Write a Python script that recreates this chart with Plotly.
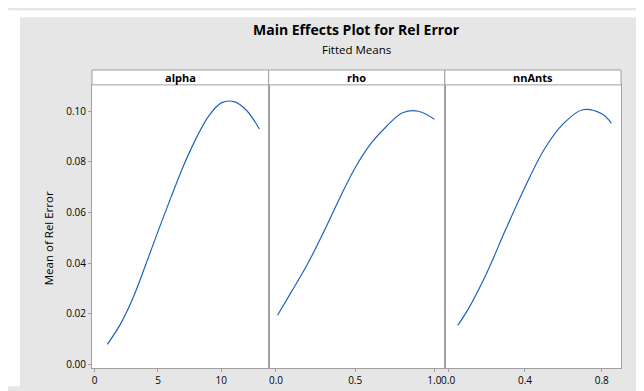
import plotly.graph_objects as go

alpha_x = [1, 2, 3, 4, 5, 6, 7, 8, 9, 10, 11, 12, 13]
alpha_y = [0.0080, 0.0157, 0.0260, 0.0390, 0.0526, 0.0657, 0.0783, 0.0892, 0.0981, 0.1033, 0.1038, 0.1003, 0.0930]

rho_x = [0.01, 0.1, 0.2, 0.3, 0.4, 0.5, 0.6, 0.7, 0.8, 0.9, 1.0]
rho_y = [0.0195, 0.0290, 0.0398, 0.0522, 0.0654, 0.0777, 0.0873, 0.0942, 0.0994, 0.1000, 0.0968]

nn_x = [0.05, 0.1, 0.2, 0.3, 0.4, 0.5, 0.6, 0.7, 0.8, 0.85]
nn_y = [0.0155, 0.0213, 0.0360, 0.0534, 0.0700, 0.0849, 0.0951, 0.1006, 0.0990, 0.0953]

panel_names = ["alpha", "rho", "nnAnts"]
x_ticks = [[0, 5, 10], [0.0, 0.5, 1.0], [0.0, 0.4, 0.8]]
x_ticktext = [["0", "5", "10"], ["0.0", "0.5", "1.0"], ["0.0", "0.4", "0.8"]]
x_ranges = [[-0.21, 13.74], [-0.046, 1.066], [-0.017, 0.9]]
y_ticks = [0.00, 0.02, 0.04, 0.06, 0.08, 0.10]

LINE = "rgb(30,100,190)"
GRID = "rgb(160,160,160)"
BG = "rgb(230,230,230)"
FONT = "Open Sans"

W, H = 644, 391
L, R, T, B = 84, 31, 62, 19
plot_w = W - L - R
plot_h = H - T - B
ytop = (372 - 77.5) / plot_h


def py(pix):
    return (372 - pix) / plot_h


def px(pix):
    return (pix - L) / plot_w


domains = [[0, 0.334], [0.334, 0.667], [0.667, 1.0]]
series = [(alpha_x, alpha_y), (rho_x, rho_y), (nn_x, nn_y)]

fig = go.Figure()
for i, (xs, ys) in enumerate(series):
    sfx = "" if i == 0 else str(i + 1)
    fig.add_trace(go.Scatter(x=xs, y=ys, mode="lines", line=dict(color=LINE, width=1.2, shape="spline"),
                             xaxis="x" + sfx, yaxis="y" + sfx, showlegend=False, hoverinfo="x+y"))
    fig.layout["xaxis" + sfx] = dict(domain=domains[i], range=x_ranges[i], tickvals=x_ticks[i],
                                     ticktext=x_ticktext[i], showgrid=False, zeroline=False,
                                     showline=True, mirror=True, linecolor=GRID, linewidth=1,
                                     ticks="outside", ticklen=3, tickcolor=GRID,
                                     tickfont=dict(family=FONT, size=10, color="black"),
                                     anchor="y" + sfx)
    fig.layout["yaxis" + sfx] = dict(domain=[0, ytop], range=[-0.00133, 0.1104], tickvals=y_ticks,
                                     tickformat=".2f", showticklabels=(i == 0), showgrid=False,
                                     zeroline=False, showline=True, mirror=True, linecolor=GRID,
                                     linewidth=1, ticks="outside" if i == 0 else "", ticklen=3,
                                     tickcolor=GRID, tickfont=dict(family=FONT, size=10, color="black"),
                                     anchor="x" + sfx)

shapes = []
annotations = []
# white margins at left and top
shapes.append(dict(type="rect", xref="paper", yref="paper", x0=px(0), x1=px(12),
                   y0=py(H), y1=py(0), fillcolor="white", line=dict(width=0), layer="below"))
shapes.append(dict(type="rect", xref="paper", yref="paper", x0=px(0), x1=px(W),
                   y0=py(7), y1=py(0), fillcolor="white", line=dict(width=0), layer="below"))
for i, name in enumerate(panel_names):
    shapes.append(dict(type="rect", xref="paper", yref="paper", x0=domains[i][0], x1=domains[i][1],
                       y0=ytop, y1=1.0, fillcolor="white", line=dict(color=GRID, width=1)))
    annotations.append(dict(text="<b>" + name + "</b>", xref="paper", yref="paper",
                            x=(domains[i][0] + domains[i][1]) / 2, y=(ytop + 1) / 2,
                            showarrow=False, xanchor="center", yanchor="middle",
                            font=dict(family=FONT, size=11, color="black")))

annotations.append(dict(text="<b>Main Effects Plot for Rel Error</b>", xref="paper", yref="paper",
                        x=0.5, y=py(20), showarrow=False, xanchor="center", yanchor="middle",
                        font=dict(family=FONT, size=14, color="black")))
annotations.append(dict(text="Fitted Means", xref="paper", yref="paper",
                        x=0.5, y=py(41), showarrow=False, xanchor="center", yanchor="middle",
                        font=dict(family=FONT, size=11.5, color="black")))
annotations.append(dict(text="Mean of Rel Error", xref="paper", yref="paper",
                        x=px(40), y=py(237), showarrow=False, textangle=-90,
                        xanchor="center", yanchor="middle",
                        font=dict(family=FONT, size=11.5, color="black")))

fig.update_layout(width=W, height=H, margin=dict(l=L, r=R, t=T, b=B),
                  paper_bgcolor=BG, plot_bgcolor="white", shapes=shapes, annotations=annotations,
                  font=dict(family=FONT))
fig.write_html("out.html")
